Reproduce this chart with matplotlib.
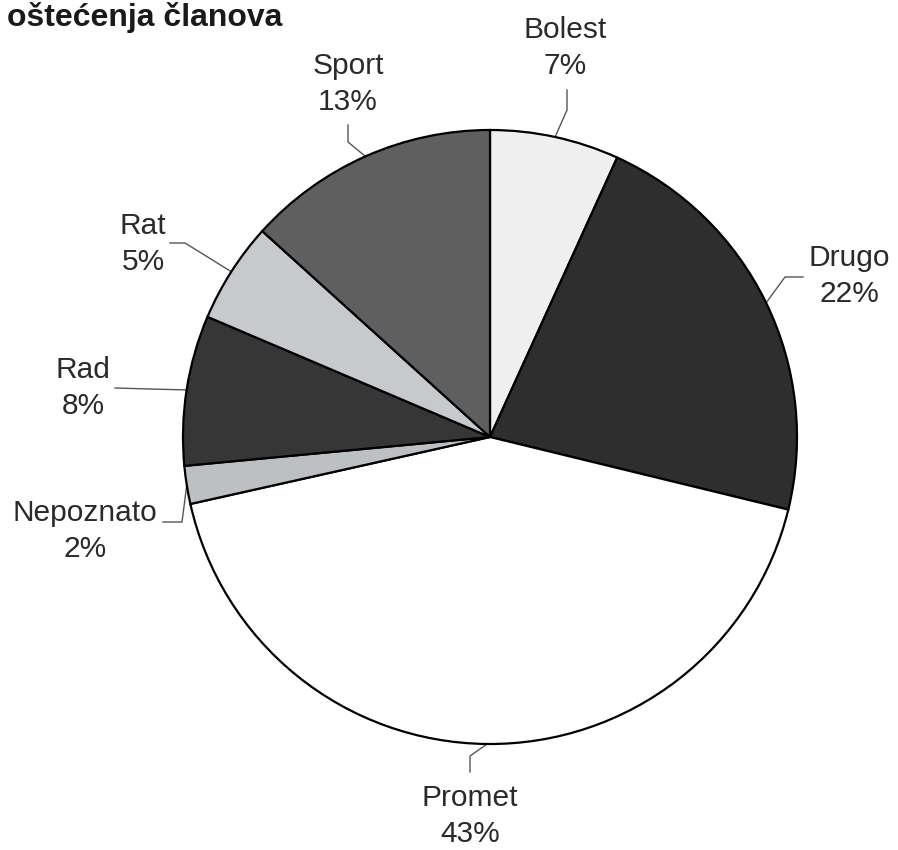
import numpy as np
import matplotlib
matplotlib.use("Agg")
import matplotlib.pyplot as plt

plt.rcParams['font.family'] = ['Liberation Sans', 'DejaVu Sans']

title = "oštećenja članova"
categories = ["Bolest", "Drugo", "Promet", "Nepoznato", "Rad", "Rat", "Sport"]
values = [6.8, 22.0, 42.7, 2.0, 7.9, 5.3, 13.3]
colors = ["#efefef", "#2e2e2e", "#ffffff", "#bcc0c2", "#363636", "#c7cacc", "#5f5f5f"]

W, H = 898, 850
fig = plt.figure(figsize=(W / 100, H / 100), dpi=100)
ax = fig.add_axes([0, 0, 1, 1])

cx, cy, R = 490, H - 437, 307
wedges, _ = ax.pie(values, colors=colors, startangle=90, counterclock=False,
                   center=(cx, cy), radius=R, frame=True,
                   wedgeprops=dict(edgecolor="black", linewidth=1.6))
ax.set_xlim(0, W)
ax.set_ylim(0, H)
ax.set_aspect("equal")
ax.axis("off")

# label layout: text centre (px, y-down), line start and elbow (px, y-down)
layout = {
    "Bolest":    dict(text=(565, 48), start=(567, 90), elbow=(567, 110)),
    "Drugo":     dict(text=(849, 276), start=(803, 277), elbow=(785, 277)),
    "Promet":    dict(text=(470, 816), start=(470, 772), elbow=(470, 756)),
    "Nepoznato": dict(text=(85, 531), start=(163, 522), elbow=(182, 522)),
    "Rad":       dict(text=(83, 388), start=(115, 388), elbow=(150, 389)),
    "Rat":       dict(text=(143, 244), start=(170, 243), elbow=(185, 243)),
    "Sport":     dict(text=(348, 84), start=(348, 125), elbow=(348, 142)),
}

for w, cat, v in zip(wedges, categories, values):
    mid = np.deg2rad((w.theta1 + w.theta2) / 2)
    ex, ey = cx + R * np.cos(mid), cy + R * np.sin(mid)
    L = layout[cat]
    sx, sy = L["start"]
    bx, by = L["elbow"]
    ax.plot([sx, bx, ex], [H - sy, H - by, ey], color="#555555", lw=1.0,
            solid_joinstyle="miter", zorder=0.5)
    tx, ty = L["text"]
    ax.text(tx, H - ty, f"{cat}\n{round(v)}%", ha="center", va="center",
            fontsize=21.5, color="#2a2a2a", linespacing=1.38)

ax.text(7, H - 26, title, ha="left", va="baseline", fontsize=23,
        fontweight="bold", color="#1a1a1a")

fig.savefig("out.png", dpi=100)
